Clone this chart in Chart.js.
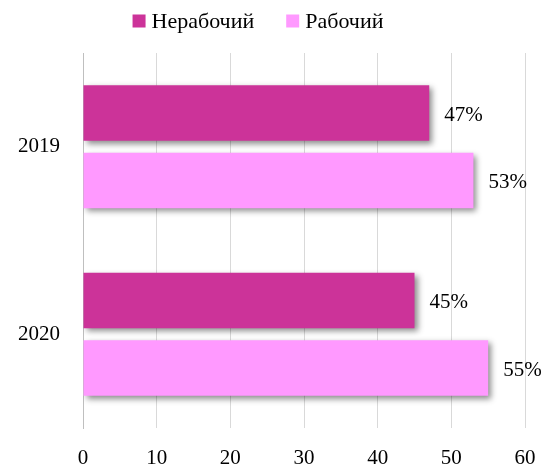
<!DOCTYPE html>
<html>
<head>
<meta charset="utf-8">
<script src="https://cdn.jsdelivr.net/npm/chart.js@4/dist/chart.umd.min.js"></script>
<style>
  html, body { margin: 0; padding: 0; background: #fff; }
  #wrap { width: 551px; height: 470px; }
</style>
</head>
<body>
<div id="wrap"><canvas id="chart"></canvas></div>
<script>
// Données
const years = ['2019', '2020'];
const nonWorking = [47, 45];
const working = [53, 55];
const xTicks = [0, 10, 20, 30, 40, 50, 60];

const FONT = '"Liberation Serif", "DejaVu Serif", serif';

// Ombre portée sous les barres
const shadowPlugin = {
    id: 'barShadow',
    beforeDatasetsDraw(chart) {
        const ctx = chart.ctx;
        ctx.save();
        ctx.shadowColor = 'rgba(0,0,0,0.45)';
        ctx.shadowBlur = 6;
        ctx.shadowOffsetX = 3;
        ctx.shadowOffsetY = 3;
    },
    afterDatasetsDraw(chart) {
        chart.ctx.restore();
    }
};

// Étiquettes de valeur à droite des barres
const valueLabels = {
    id: 'valueLabels',
    afterDraw(chart) {
        const ctx = chart.ctx;
        ctx.save();
        ctx.font = '21px ' + FONT;
        ctx.fillStyle = '#000';
        ctx.textBaseline = 'middle';
        ctx.textAlign = 'left';
        chart.data.datasets.forEach((ds, i) => {
            chart.getDatasetMeta(i).data.forEach((bar, j) => {
                ctx.fillText(ds.data[j] + '%', bar.x + 15, bar.y + 2);
            });
        });
        ctx.restore();
    }
};

// Légende dessinée à la main (espacement comme sur l'original)
const topLegend = {
    id: 'topLegend',
    afterDraw(chart) {
        const ctx = chart.ctx;
        const box = 13, gapText = 6, gapItem = 32, cy = 21;
        ctx.save();
        ctx.font = '22px ' + FONT;
        ctx.textBaseline = 'middle';
        ctx.textAlign = 'left';
        const items = chart.data.datasets.map(ds => ({
            text: ds.label,
            color: ds.backgroundColor,
            w: ctx.measureText(ds.label).width
        }));
        const total = items.reduce((s, it) => s + box + gapText + it.w, 0) + gapItem * (items.length - 1);
        let x = 258 - total / 2;
        items.forEach(it => {
            ctx.fillStyle = it.color;
            ctx.fillRect(x, cy - box / 2, box, box);
            x += box + gapText;
            ctx.fillStyle = '#000';
            ctx.fillText(it.text, x, cy + 1);
            x += it.w + gapItem;
        });
        ctx.restore();
    }
};

const ctx = document.getElementById('chart').getContext('2d');
new Chart(ctx, {
    type: 'bar',
    data: {
        labels: years,
        datasets: [{
            label: 'Нерабочий',
            data: nonWorking,
            backgroundColor: '#CC3399',
            categoryPercentage: 0.72,
            barPercentage: 0.82
        }, {
            label: 'Рабочий',
            data: working,
            backgroundColor: '#FF99FF',
            categoryPercentage: 0.72,
            barPercentage: 0.82
        }]
    },
    options: {
        indexAxis: 'y',
        responsive: true,
        maintainAspectRatio: false,
        animation: false,
        layout: { padding: { left: 0, right: 26, top: 53, bottom: 0 } },
        scales: {
            x: {
                min: 0,
                max: 60,
                afterBuildTicks(axis) {
                    axis.ticks = xTicks.map(v => ({ value: v }));
                },
                afterFit(axis) {
                    axis.height = 42;
                    axis.paddingLeft = 0;
                    axis.paddingRight = 0;
                },
                grid: {
                    color: '#d9d9d9',
                    drawTicks: false
                },
                border: { display: false },
                ticks: {
                    color: '#000',
                    padding: 18,
                    font: { family: FONT, size: 21 }
                }
            },
            y: {
                afterFit(axis) {
                    axis.width = 83;
                },
                grid: { display: false },
                border: { color: '#bfbfbf', width: 1 },
                ticks: {
                    color: '#000',
                    padding: 15,
                    font: { family: FONT, size: 21 }
                }
            }
        },
        plugins: {
            legend: { display: false },
            tooltip: { enabled: false }
        }
    },
    plugins: [shadowPlugin, valueLabels, topLegend]
});
</script>
</body>
</html>
